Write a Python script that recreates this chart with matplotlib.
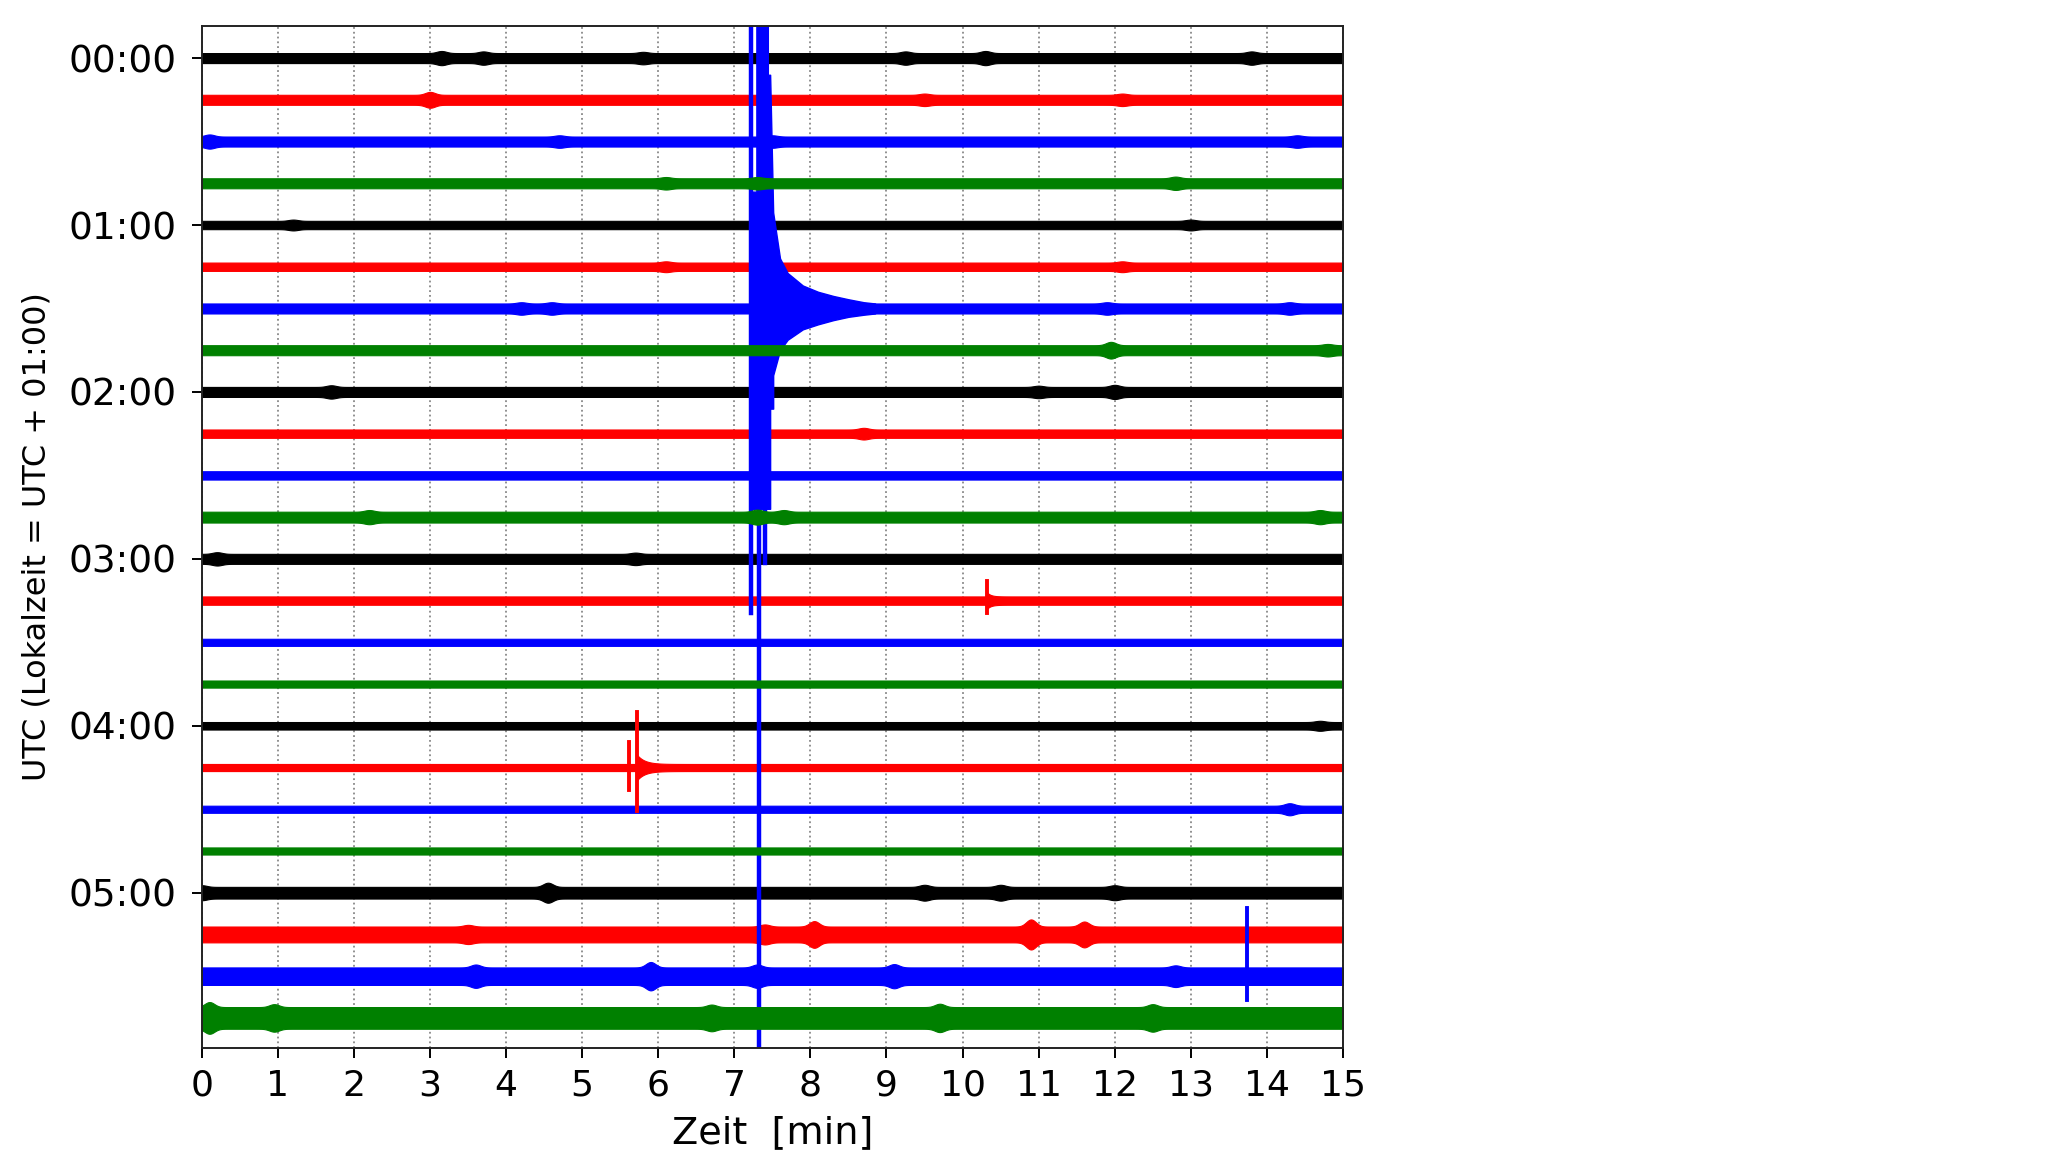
import numpy as np
import matplotlib
matplotlib.use("Agg")
import matplotlib.pyplot as plt

# one row per 15 minutes, 00:00 .. 05:45 UTC
trace_colors = ["k", "r", "b", "g"]
hour_labels = ["00:00", "01:00", "02:00", "03:00", "04:00", "05:00"]
minutes = list(range(16))

# half width of the noise band of each row (in row units)
trace_amp = [0.12, 0.12, 0.12, 0.12, 0.10, 0.10, 0.12, 0.12,
             0.12, 0.10, 0.10, 0.13, 0.12, 0.10, 0.085, 0.085,
             0.09, 0.085, 0.085, 0.085, 0.14, 0.19, 0.21, 0.26]

# louder noise patches: (row, minute, extra half width)
bursts = [
    (0, 3.15, 0.05), (0, 3.7, 0.04), (0, 5.8, 0.03), (0, 9.25, 0.04), (0, 10.3, 0.05), (0, 13.8, 0.04),
    (1, 3.0, 0.07), (1, 9.5, 0.03), (1, 12.1, 0.03),
    (2, 0.1, 0.05), (2, 4.7, 0.03), (2, 7.5, 0.03), (2, 14.4, 0.03),
    (3, 6.1, 0.03), (3, 12.8, 0.04), (3, 7.3, 0.03),
    (4, 1.2, 0.03), (4, 13.0, 0.03),
    (5, 6.1, 0.03), (5, 12.1, 0.03),
    (6, 4.2, 0.03), (6, 4.6, 0.03), (6, 11.9, 0.03), (6, 14.3, 0.03),
    (7, 11.95, 0.08), (7, 14.8, 0.03),
    (8, 1.7, 0.04), (8, 11.0, 0.03), (8, 12.0, 0.05),
    (9, 8.7, 0.04),
    (11, 2.2, 0.04), (11, 7.3, 0.05), (11, 7.65, 0.04), (11, 14.7, 0.04),
    (12, 0.2, 0.04), (12, 5.7, 0.03),
    (16, 14.7, 0.03),
    (18, 14.3, 0.06),
    (20, 0.0, 0.04), (20, 4.55, 0.1), (20, 9.5, 0.05), (20, 10.5, 0.05), (20, 12.0, 0.04),
    (21, 3.5, 0.04), (21, 8.05, 0.13), (21, 10.9, 0.17), (21, 11.6, 0.12), (21, 7.4, 0.05),
    (22, 3.6, 0.07), (22, 5.9, 0.13), (22, 7.3, 0.07), (22, 9.1, 0.08), (22, 12.8, 0.05),
    (23, 0.1, 0.12), (23, 0.95, 0.07), (23, 6.7, 0.06), (23, 9.7, 0.08), (23, 12.5, 0.07),
]

# the big quake on the 01:30 row: outline (minute, up, down) in row units
quake_row = 6
quake_t = [7.20, 7.29, 7.29, 7.44, 7.44, 7.47, 7.47, 7.51, 7.51, 7.60, 7.70, 7.90, 8.10, 8.30, 8.50, 8.70, 8.85]
quake_up = [2.8, 2.8, 7.5, 7.5, 5.6, 5.6, 5.6, 2.3, 2.3, 1.2, 0.85, 0.55, 0.4, 0.3, 0.22, 0.15, 0.12]
quake_dn = [4.8, 4.8, 4.8, 4.8, 4.8, 4.8, 2.4, 2.4, 1.6, 1.0, 0.75, 0.5, 0.38, 0.28, 0.2, 0.15, 0.12]
# clipped swings of the quake: (minute, up, down)
quake_lines = [(7.215, 7.5, 7.3), (7.32, 7.5, 18.0), (7.40, 7.5, 6.1)]

# small local events: (row, minute, up, down)
spikes = [(13, 10.32, 0.46, 0.29), (17, 5.61, 0.62, 0.53), (17, 5.72, 1.34, 1.05), (22, 13.74, 1.64, 0.57)]
codas = [(17, 5.72, 0.22, 0.1), (13, 10.32, 0.1, 0.05)]

fig = plt.figure(figsize=(20.48, 11.53), dpi=100)
ax = fig.add_axes([0.0986, 0.0911, 0.5571, 0.8864])

t = np.linspace(0, 15, 3001)
for i, base in enumerate(trace_amp):
    col = trace_colors[i % 4]
    env = np.full_like(t, base)
    for row, m, a in bursts:
        if row == i:
            env += a * np.exp(-((t - m) / 0.09) ** 2)
    for row, m, a, w in codas:
        if row == i:
            env += np.where(t >= m, a * np.exp(-(t - m) / w), 0)
    ax.fill_between(t, i - env, i + env, color=col, lw=0.8, zorder=2 + i % 4)

ax.fill_between(quake_t, np.array(quake_up) * -1 + quake_row, np.array(quake_dn) + quake_row,
                color="b", lw=1, zorder=4)
for m, up, dn in quake_lines:
    ax.plot([m, m], [quake_row - up, quake_row + dn], color="b", lw=3.2, zorder=4)

for row, m, up, dn in spikes:
    ax.plot([m, m], [row - up, row + dn], color=trace_colors[row % 4], lw=2.8, zorder=6)

ax.set_xlim(0, 15)
ax.set_ylim(23.72, -0.77)
ax.set_xticks(minutes)
ax.set_yticks([0, 4, 8, 12, 16, 20])
ax.set_yticklabels(hour_labels)
ax.grid(axis="x", color="#888888", linestyle=":", lw=1.3)
ax.set_axisbelow(True)
ax.tick_params(axis="x", labelsize=26, length=7, width=1.4, pad=8)
ax.tick_params(axis="y", labelsize=27, length=7, width=1.4, pad=11)
for s in ax.spines.values():
    s.set_linewidth(1.4)
    s.set_color("#222222")
    s.set_zorder(10)

ax.set_xlabel("Zeit  [min]", fontsize=27.5, labelpad=9)
ax.set_ylabel("UTC (Lokalzeit = UTC + 01:00)", fontsize=23, labelpad=12)

fig.savefig("out.png", dpi=100)
